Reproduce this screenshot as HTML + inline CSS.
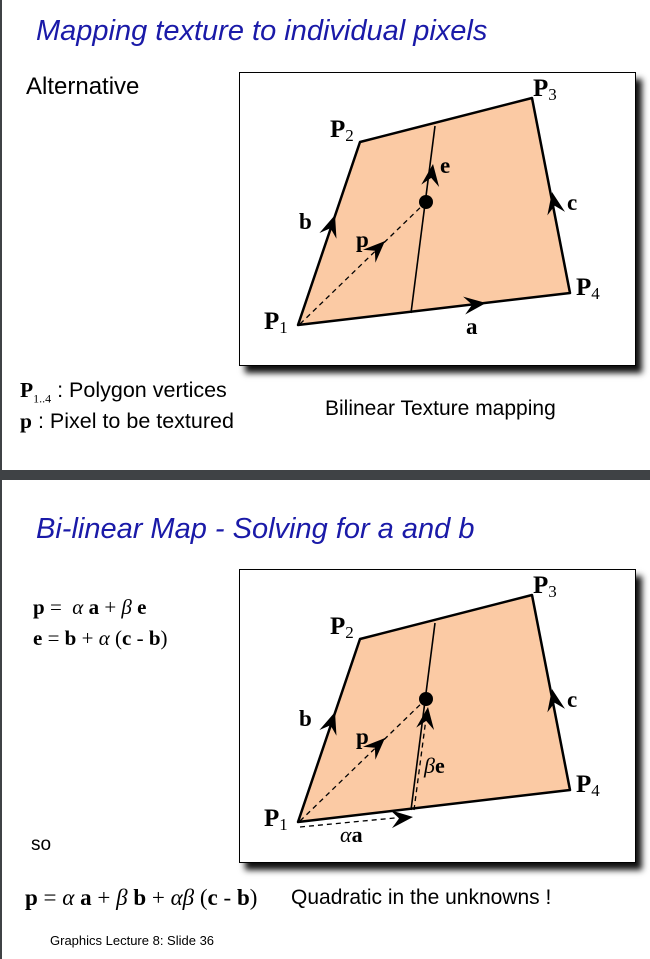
<!DOCTYPE html>
<html><head><meta charset="utf-8"><style>
body{margin:0;width:650px;height:959px;overflow:hidden;background:#fff;font-family:"Liberation Sans",sans-serif;position:relative}
.abs{position:absolute;white-space:nowrap}
.title{color:#1a1aa8;font-style:italic;font-size:29px}
.serif{font-family:"Liberation Serif",serif}
.sep{position:absolute;left:0;top:470px;width:650px;height:10px;background:#3f4245}
.lb{position:absolute;left:0;width:2px;background:#3f4245}
.box{position:absolute;left:239px;width:395px;height:292px;border:1.5px solid #000;background:#fff;box-shadow:6px 7px 6px #111}
</style></head><body>
<div class="lb" style="top:0;height:470px"></div>
<div class="lb" style="top:480px;height:479px"></div>
<div class="sep"></div>

<div class="abs title" style="left:36px;top:15px">Mapping texture to individual pixels</div>
<div class="abs" style="left:26px;top:73px;font-size:24px">Alternative</div>
<div class="box" style="top:72px"></div>
<div class="abs" style="left:20px;top:378px;font-size:21.5px"><b class="serif">P</b><sub style="font-size:12px" class="serif">1..4</sub> : Polygon vertices</div>
<div class="abs" style="left:20px;top:409px;font-size:21.5px"><b class="serif">p</b> : Pixel to be textured</div>
<div class="abs" style="left:325px;top:397px;font-size:21px">Bilinear Texture mapping</div>

<div class="abs title" style="left:36px;top:513px">Bi-linear Map - Solving for a and b</div>
<div class="box" style="top:569px"></div>
<div class="abs serif" style="left:33px;top:595px;font-size:21px"><b>p</b> = &nbsp;<i>α</i> <b>a</b> + <i>β</i> <b>e</b></div>
<div class="abs serif" style="left:33px;top:626px;font-size:21px"><b>e</b> = <b>b</b> + <i>α</i> (<b>c</b> - <b>b</b>)</div>
<div class="abs" style="left:31px;top:834px;font-size:19px">so</div>
<div class="abs serif" style="left:25px;top:885px;font-size:23px"><b>p</b> = <i>α</i> <b>a</b> + <i>β</i> <b>b</b> + <i>αβ</i> (<b>c</b> - <b>b</b>)</div>
<div class="abs" style="left:291px;top:886px;font-size:21px">Quadratic in the unknowns !</div>
<div class="abs" style="left:50px;top:933px;font-size:13px">Graphics Lecture 8: Slide 36</div>

<svg width="650" height="959" style="position:absolute;left:0;top:0" font-family="Liberation Serif, serif">
<defs>
<path id="ah" d="M0,0 L-22,-9 L-14,0 L-22,9 Z" fill="#000"/>
</defs>
<g>
<polygon points="298,325 360,142 532,98 570,293" fill="#fbcaa4" stroke="#000" stroke-width="2.5" stroke-linejoin="round"/>
<line x1="411" y1="313" x2="435" y2="126" stroke="#000" stroke-width="1.6"/>
<line x1="300" y1="324" x2="426" y2="202" stroke="#000" stroke-width="1.3" stroke-dasharray="5,4"/>
<circle cx="426" cy="202" r="7" fill="#000"/>
<use href="#ah" transform="translate(486,303) rotate(-6.7)"/>
<use href="#ah" transform="translate(335,215) rotate(-71.3)"/>
<use href="#ah" transform="translate(552,192) rotate(-101)"/>
<use href="#ah" transform="translate(385,241) rotate(-43.9)"/>
<use href="#ah" transform="translate(433,164) rotate(-82.7)"/>
<text x="264" y="329" font-size="25" font-weight="bold">P<tspan font-size="17" font-weight="normal" dy="4">1</tspan></text>
<text x="330" y="137" font-size="25" font-weight="bold">P<tspan font-size="17" font-weight="normal" dy="4">2</tspan></text>
<text x="533" y="96" font-size="25" font-weight="bold">P<tspan font-size="17" font-weight="normal" dy="4">3</tspan></text>
<text x="576" y="295" font-size="25" font-weight="bold">P<tspan font-size="17" font-weight="normal" dy="4">4</tspan></text>
<text x="299" y="229" font-size="23" font-weight="bold">b</text>
<text x="356" y="247" font-size="23" font-weight="bold">p</text>
<text x="440" y="173" font-size="23" font-weight="bold">e</text>
<text x="567" y="210" font-size="23" font-weight="bold">c</text>
<text x="466" y="334" font-size="23" font-weight="bold">a</text>
</g>
<g transform="translate(0,497)">
<polygon points="298,325 360,142 532,98 570,293" fill="#fbcaa4" stroke="#000" stroke-width="2.5" stroke-linejoin="round"/>
<line x1="411" y1="313" x2="435" y2="126" stroke="#000" stroke-width="1.6"/>
<line x1="300" y1="324" x2="426" y2="202" stroke="#000" stroke-width="1.3" stroke-dasharray="5,4"/>
<line x1="414" y1="313" x2="427" y2="214" stroke="#000" stroke-width="1.3" stroke-dasharray="5,4"/>
<line x1="300" y1="330" x2="405" y2="320" stroke="#000" stroke-width="1.3" stroke-dasharray="5,4"/>
<circle cx="426" cy="202" r="7" fill="#000"/>
<use href="#ah" transform="translate(413,320) rotate(-5.5)"/>
<use href="#ah" transform="translate(428,210) rotate(-82.5)"/>
<use href="#ah" transform="translate(335,215) rotate(-71.3)"/>
<use href="#ah" transform="translate(552,192) rotate(-101)"/>
<use href="#ah" transform="translate(385,241) rotate(-43.9)"/>
<text x="264" y="329" font-size="25" font-weight="bold">P<tspan font-size="17" font-weight="normal" dy="4">1</tspan></text>
<text x="330" y="137" font-size="25" font-weight="bold">P<tspan font-size="17" font-weight="normal" dy="4">2</tspan></text>
<text x="533" y="96" font-size="25" font-weight="bold">P<tspan font-size="17" font-weight="normal" dy="4">3</tspan></text>
<text x="576" y="295" font-size="25" font-weight="bold">P<tspan font-size="17" font-weight="normal" dy="4">4</tspan></text>
<text x="299" y="229" font-size="23" font-weight="bold">b</text>
<text x="356" y="247" font-size="23" font-weight="bold">p</text>
<text x="424" y="276" font-size="22"><tspan font-style="italic">β</tspan><tspan font-weight="bold">e</tspan></text>
<text x="567" y="210" font-size="23" font-weight="bold">c</text>
<text x="340" y="345" font-size="22"><tspan font-style="italic">α</tspan><tspan font-weight="bold">a</tspan></text>
</g>
</svg>
</body></html>
